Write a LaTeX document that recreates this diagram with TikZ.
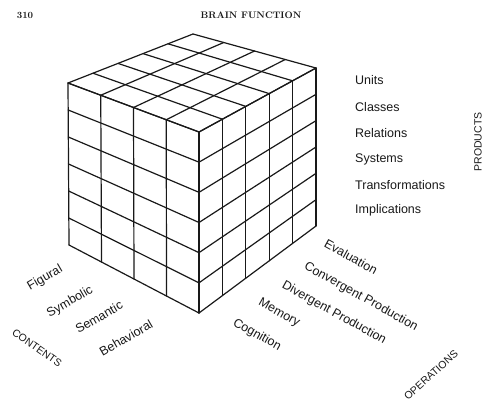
\documentclass[tikz,border=0pt]{standalone}
\usepackage{fontspec}
\usepackage{xcolor}
\usetikzlibrary{calc}
\newfontfamily\lblfont{Liberation Sans}
\definecolor{ink}{RGB}{25, 25, 25}
\tikzset{
    gridline/.style={draw=ink, line width=1.2pt, line join=round, line cap=round},
    lbl/.style={font=\lblfont\fontsize{12.5}{14}\selectfont, text=ink, inner sep=0pt},
    axislbl/.style={font=\lblfont\fontsize{10.5}{12}\selectfont, text=ink, inner sep=0pt},
    prodlbl/.style={lbl, anchor=west},
    contlbl/.style={lbl, rotate=30},
    operlbl/.style={lbl, rotate=-29},
    header/.style={font=\bfseries\fontsize{9.5}{10}\selectfont, text=ink, inner sep=0pt}
}
\begin{document}
\begin{tikzpicture}[x=1pt, y=-1pt]
                \useasboundingbox (0,0) rectangle (484,405);
                \coordinate (ft) at (199,132);
                \coordinate (fb) at (199,313);
                \coordinate (lt) at (68,83);
                \coordinate (lb) at (69,245);
                \coordinate (rt) at (316,68);
                \coordinate (rb) at (316,226);
                \coordinate (bt) at (193,34);
                \foreach \i in {0,...,4} {
                    \draw[gridline] ($(ft)!\i/4!(lt)$) -- ($(fb)!\i/4!(lb)$);
                    \draw[gridline] ($(ft)!\i/4!(lt)$) -- ($(rt)!\i/4!(bt)$);
                }
                \foreach \i in {0,...,5} {
                    \draw[gridline] ($(ft)!\i/5!(rt)$) -- ($(fb)!\i/5!(rb)$);
                    \draw[gridline] ($(ft)!\i/5!(rt)$) -- ($(lt)!\i/5!(bt)$);
                }
                \foreach \j in {0,...,6} {
                    \draw[gridline] ($(lt)!\j/6!(lb)$) -- ($(ft)!\j/6!(fb)$) -- ($(rt)!\j/6!(rb)$);
                }
                \node[header] (page) at (25,15) {310};
                \node[header] (title) at (251,15) {\addfontfeature{LetterSpace=20}BRAIN FUNCTION};
                \node[prodlbl] (units) at (355,80) {Units};
                \node[prodlbl] (classes) at (355,107) {Classes};
                \node[prodlbl] (relations) at (355,133) {Relations};
                \node[prodlbl] (systems) at (355,159) {Systems};
                \node[prodlbl] (transf) at (355,185) {Transformations};
                \node[prodlbl] (implic) at (355,210) {Implications};
                \node[axislbl, rotate=90] (products) at (478,142) {PRODUCTS};
                \node[contlbl] (figural) at (45,278) {Figural};
                \node[contlbl] (symbolic) at (70,302) {Symbolic};
                \node[contlbl] (semantic) at (99,317) {Semantic};
                \node[contlbl] (behav) at (126,338) {Behavioral};
                \node[axislbl, rotate=-35] (contents) at (37,348) {CONTENTS};
                \node[operlbl] (evaluation) at (351,257) {Evaluation};
                \node[operlbl] (convergent) at (361,297) {Convergent Production};
                \node[operlbl] (divergent) at (334,313) {Divergent Production};
                \node[operlbl] (memory) at (279,313) {Memory};
                \node[operlbl] (cognition) at (257,335) {Cognition};
                \node[axislbl, rotate=42] (operations) at (431,375) {OPERATIONS};
            \end{tikzpicture}
\end{document}
